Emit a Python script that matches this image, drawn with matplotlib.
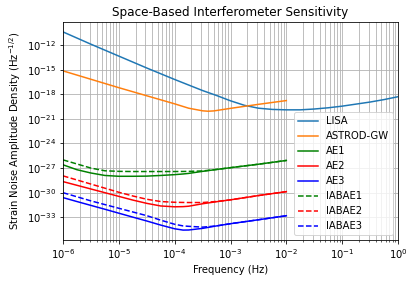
import numpy as np
import matplotlib
matplotlib.use('Agg')
import matplotlib.pyplot as plt

#### values (log10 of frequency / strain density)
lisa_logf = [-6, -5.5, -5, -4.5, -4, -3.5, -3.25, -3, -2.75, -2.5, -2.25, -2,
             -1.75, -1.5, -1.25, -1, -0.75, -0.5, -0.25, 0]
lisa_logh = [-10.4, -11.9, -13.35, -14.8, -16.2, -17.55, -18.15, -18.8, -19.35,
             -19.7, -19.85, -19.9, -19.9, -19.8, -19.65, -19.45, -19.2, -18.95,
             -18.65, -18.3]

astrod_logf = [-6, -5, -4, -3.75, -3.5, -3.4, -3.3, -3.25, -3, -2.5, -2]
astrod_logh = [-15.15, -17.2, -19.17, -19.7, -20.02, -20.07, -20.03, -19.98,
               -19.72, -19.23, -18.77]

ae_logf = [-6, -5.75, -5.5, -5.25, -5, -4.75, -4.5, -4.25, -4, -3.85, -3.75,
           -3.5, -3.25, -3, -2.5, -2]
ae1 = [-26.6, -27.2, -27.6, -27.9, -28.0, -28.0, -27.98, -27.9, -27.8, -27.72,
       -27.65, -27.4, -27.17, -26.95, -26.53, -26.07]
iabae1 = [-26.0, -26.5, -27.0, -27.33, -27.4, -27.42, -27.42, -27.42, -27.42,
          -27.41, -27.4, -27.35, -27.17, -26.95, -26.53, -26.07]
ae2 = [-28.65, -29.1, -29.55, -30.0, -30.45, -30.9, -31.3, -31.62, -31.72,
       -31.7, -31.65, -31.35, -31.1, -30.87, -30.35, -29.87]
iabae2 = [-27.95, -28.45, -28.95, -29.45, -29.95, -30.4, -30.8, -31.08, -31.17,
          -31.19, -31.2, -31.2, -31.07, -30.87, -30.35, -29.87]
ae3 = [-30.6, -31.08, -31.55, -32.02, -32.5, -32.98, -33.45, -33.95, -34.4,
       -34.56, -34.55, -34.35, -34.05, -33.78, -33.3, -32.81]
iabae3 = [-30.0, -30.5, -31.0, -31.45, -31.9, -32.35, -32.8, -33.35, -33.85,
          -34.05, -34.1, -34.2, -34.05, -33.78, -33.3, -32.81]

labels = ['LISA', 'ASTROD-GW', 'AE1', 'AE2', 'AE3', 'IABAE1', 'IABAE2', 'IABAE3']

#### plotting
fig = plt.figure(figsize=(414/72., 282/72.), dpi=72)
ax = fig.add_axes([63/414., 1-240/282., 335/414., 218/282.])

ax.loglog(10**np.array(lisa_logf), 10**np.array(lisa_logh), label=labels[0])
ax.loglog(10**np.array(astrod_logf), 10**np.array(astrod_logh), label=labels[1])
f = 10**np.array(ae_logf)
ax.loglog(f, 10**np.array(ae1), 'g-', label=labels[2])
ax.loglog(f, 10**np.array(ae2), 'r-', label=labels[3])
ax.loglog(f, 10**np.array(ae3), 'b-', label=labels[4])
ax.loglog(f, 10**np.array(iabae1), 'g--', label=labels[5])
ax.loglog(f, 10**np.array(iabae2), 'r--', label=labels[6])
ax.loglog(f, 10**np.array(iabae3), 'b--', label=labels[7])

ax.set_xlim(1e-6, 1)
ax.grid(True, which='both')
ax.legend(loc='lower right')
ax.set_title('Space-Based Interferometer Sensitivity')
ax.set_xlabel('Frequency (Hz)')
ax.set_ylabel('Strain Noise Amplitude Density (Hz$^{-1/2}$)')

fig.savefig('out.png', dpi=72)
